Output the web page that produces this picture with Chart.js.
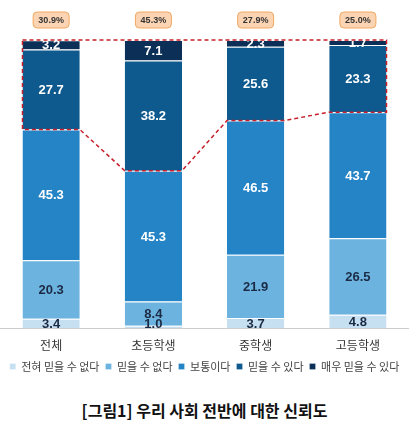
<!DOCTYPE html>
<html><head><meta charset="utf-8">
<script src="https://cdn.jsdelivr.net/npm/chart.js@4"></script>
<style>
body{margin:0;background:#fff;font-family:"Noto Sans CJK KR",sans-serif;}
#wrap{width:409px;height:382px;position:relative;}
h1{margin:0;text-align:center;font-size:16px;font-weight:bold;color:#111;position:absolute;top:398px;width:409px;}
</style></head><body>
<div id="wrap"><canvas id="c"></canvas></div>
<h1>[그림1] 우리 사회 전반에 대한 신뢰도</h1>
<script>
const categories = ['전체', '초등학생', '중학생', '고등학생'];
const seriesNames = ['전혀 믿을 수 없다', '믿을 수 없다', '보통이다', '믿을 수 있다', '매우 믿을 수 있다'];
const notAtAll = [3.4, 1.0, 3.7, 4.8];
const cannot = [20.3, 8.4, 21.9, 26.5];
const neutral = [45.3, 45.3, 46.5, 43.7];
const can = [27.7, 38.2, 25.6, 23.3];
const veryMuch = [3.2, 7.1, 2.3, 1.7];
const topLabels = ['30.9%', '45.3%', '27.9%', '25.0%'];

const colors = ['#c6e0f1', '#6cb3df', '#2584c6', '#0e5a8e', '#0b2f56'];
const textColors = ['#1b2a44', '#1b2a44', '#fff', '#fff', '#fff'];
const series = [notAtAll, cannot, neutral, can, veryMuch];

const overlay = {
  id: 'overlay',
  afterDatasetsDraw(chart) {
    const ctx = chart.ctx, x = chart.scales.x, y = chart.scales.y;
    ctx.font = 'bold 13px "Liberation Sans", Arial, sans-serif';
    ctx.textAlign = 'center'; ctx.textBaseline = 'middle';
    chart.data.datasets.forEach((ds, di) => {
      chart.getDatasetMeta(di).data.forEach((bar, i) => {
        const p = bar.getProps(['x', 'y', 'base'], true);
        let cy = (p.y + p.base) / 2;
        if (di === 0 && i === 1) cy = p.y - 2;
        ctx.fillStyle = textColors[di];
        ctx.fillText(ds.data[i].toFixed(1), p.x, cy + 1);
      });
    });
    ctx.font = 'bold 9px "Liberation Sans", Arial, sans-serif';
    categories.forEach((c, i) => {
      const cx = x.getPixelForValue(i), cy = y.top - 20;
      ctx.fillStyle = '#fbd4b4'; ctx.strokeStyle = '#f0a860'; ctx.lineWidth = 1;
      ctx.beginPath(); ctx.roundRect(cx - 18, cy - 8, 36, 16, 4); ctx.fill(); ctx.stroke();
      ctx.fillStyle = '#333'; ctx.fillText(topLabels[i], cx, cy + 1);
    });
    const meta = chart.getDatasetMeta(2).data;
    const pts = [];
    meta.forEach((bar) => {
      const p = bar.getProps(['x', 'y', 'width'], true);
      pts.push([p.x - p.width / 2, p.y], [p.x + p.width / 2, p.y]);
    });
    const l = pts[0][0], r = pts[pts.length - 1][0], t = y.getPixelForValue(100);
    ctx.save();
    ctx.strokeStyle = '#c8202a'; ctx.lineWidth = 1.5; ctx.setLineDash([4, 3]);
    ctx.beginPath(); ctx.moveTo(l, t); ctx.lineTo(r, t);
    for (let k = pts.length - 1; k >= 0; k--) ctx.lineTo(pts[k][0], pts[k][1]);
    ctx.closePath(); ctx.stroke();
    ctx.restore();
  }
};

new Chart(document.getElementById('c'), {
  type: 'bar',
  data: {
    labels: categories,
    datasets: series.map((d, i) => ({
      label: seriesNames[i], data: d, backgroundColor: colors[i],
      borderColor: '#ffffff', borderWidth: { top: 1 }, borderSkipped: false,
      barPercentage: 0.56, categoryPercentage: 1
    }))
  },
  options: {
    responsive: true, maintainAspectRatio: false, animation: false,
    layout: { padding: { top: 40, left: 0, right: 0 } },
    plugins: {
      tooltip: { enabled: false },
      legend: {
        position: 'bottom',
        labels: { boxWidth: 6, boxHeight: 6, padding: 6, color: '#444',
          font: { size: 11, family: '"Noto Sans CJK KR", sans-serif' } }
      }
    },
    scales: {
      x: { stacked: true, grid: { display: false }, border: { color: '#ccc' },
        ticks: { color: '#333', font: { size: 12, family: '"Noto Sans CJK KR", sans-serif' }, padding: 2 } },
      y: { stacked: true, min: 0, max: 100, display: false }
    }
  },
  plugins: [overlay]
});
</script>
</body></html>
